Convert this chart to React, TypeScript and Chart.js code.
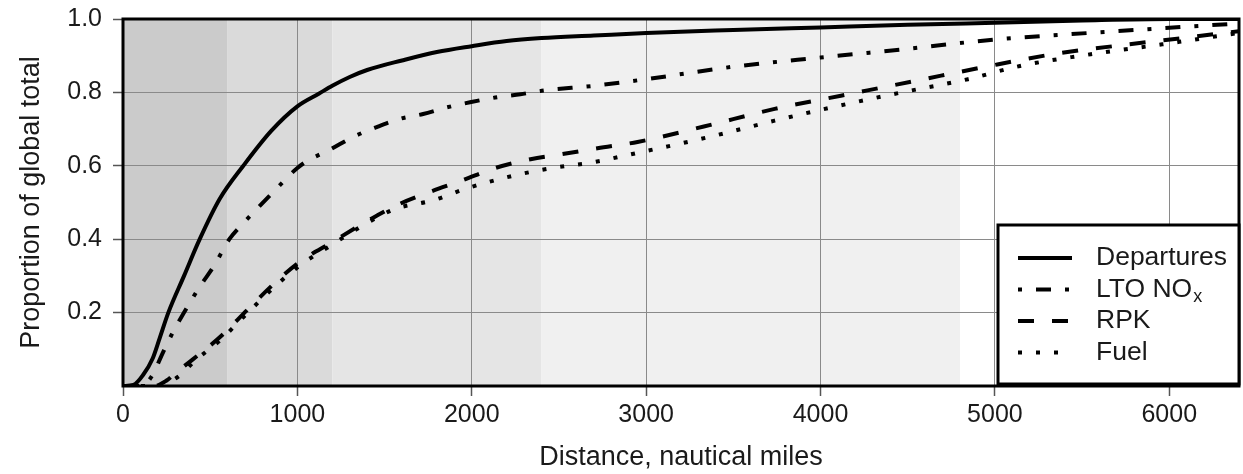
import React, { useEffect, useRef } from 'react';
import { Chart, registerables } from 'chart.js';

Chart.register(...registerables);

// ---- Data ----
const departuresX = [0, 60, 115, 170, 210, 260, 350, 440, 555, 690, 850, 1000, 1125, 1200, 1300, 1400, 1600, 1800, 2000, 2200, 2400, 2700, 3000, 3500, 4000, 4500, 5000, 5500, 6000, 6400];
const departuresY = [0, 0.003, 0.03, 0.075, 0.13, 0.2, 0.3, 0.4, 0.51, 0.6, 0.695, 0.762, 0.797, 0.818, 0.842, 0.861, 0.887, 0.91, 0.926, 0.94, 0.948, 0.955, 0.962, 0.97, 0.977, 0.984, 0.99, 0.996, 1.0, 1.0];

const ltoX = [0, 100, 170, 221, 290, 350, 442, 519, 610, 683, 779, 875, 1000, 1067, 1183, 1317, 1452, 1587, 1721, 1856, 1990, 2135, 2279, 2413, 2700, 3000, 3500, 4000, 4466, 5000, 5415, 6000, 6400];
const ltoY = [0, 0, 0.03, 0.083, 0.15, 0.2, 0.272, 0.325, 0.4, 0.44, 0.488, 0.535, 0.594, 0.616, 0.643, 0.678, 0.705, 0.728, 0.741, 0.759, 0.773, 0.786, 0.795, 0.805, 0.818, 0.836, 0.87, 0.895, 0.917, 0.944, 0.958, 0.976, 0.988];

const rpkX = [0, 180, 250, 300, 404, 558, 712, 880, 1019, 1192, 1385, 1558, 1750, 1950, 2135, 2337, 2548, 2721, 2951, 3331, 3737, 4117, 4550, 4927, 5333, 5767, 6095, 6400];
const rpkY = [0, 0, 0.015, 0.035, 0.074, 0.134, 0.207, 0.285, 0.34, 0.39, 0.445, 0.49, 0.527, 0.561, 0.594, 0.618, 0.634, 0.648, 0.665, 0.707, 0.755, 0.791, 0.832, 0.868, 0.904, 0.931, 0.949, 0.967];

const fuelX = [0, 200, 260, 330, 404, 558, 712, 880, 1019, 1192, 1385, 1558, 1779, 1962, 2144, 2356, 2548, 2663, 2978, 3357, 3737, 4062, 4466, 4846, 5144, 5550, 5960, 6400];
const fuelY = [0, 0, 0.01, 0.03, 0.065, 0.125, 0.198, 0.275, 0.33, 0.383, 0.44, 0.482, 0.506, 0.537, 0.562, 0.585, 0.6, 0.607, 0.638, 0.678, 0.723, 0.759, 0.8, 0.836, 0.872, 0.904, 0.931, 0.962];

const xTickValues = [0, 1000, 2000, 3000, 4000, 5000, 6000];
const yTickValues = [0.2, 0.4, 0.6, 0.8, 1.0];

const bandStarts = [0, 600, 1200, 2400];
const bandEnds = [600, 1200, 2400, 4800];
const bandColors = ['#cbcbcb', '#dadada', '#e5e5e5', '#f0f0f0'];

const seriesNames = ['Departures', 'LTO NO', 'RPK', 'Fuel'];
const seriesSubscripts = ['', 'x', '', ''];

const FONT = '"Liberation Sans", Arial, Helvetica, sans-serif';

const toPoints = (xs: number[], ys: number[]) => xs.map((x, i) => ({ x, y: ys[i] }));

const bandsPlugin = {
  id: 'bands',
  beforeDraw(chart: any) {
    const { ctx, chartArea, scales } = chart;
    const xs = scales.x;
    ctx.save();
    ctx.fillStyle = '#ffffff';
    ctx.fillRect(0, 0, chart.width, chart.height);
    for (let i = 0; i < bandStarts.length; i++) {
      const x0 = xs.getPixelForValue(bandStarts[i]);
      const x1 = xs.getPixelForValue(bandEnds[i]);
      ctx.fillStyle = bandColors[i];
      ctx.fillRect(x0, chartArea.top, x1 - x0, chartArea.bottom - chartArea.top);
    }
    ctx.restore();
  },
};

const framePlugin = {
  id: 'frame',
  beforeDatasetsDraw(chart: any) {
    const { ctx, chartArea } = chart;
    ctx.save();
    ctx.strokeStyle = '#000';
    ctx.lineWidth = 3;
    ctx.strokeRect(chartArea.left, chartArea.top, chartArea.right - chartArea.left, chartArea.bottom - chartArea.top);
    ctx.restore();
  },
};

const legendPlugin = {
  id: 'customLegend',
  afterDraw(chart: any) {
    const { ctx, chartArea } = chart;
    const boxRight = chartArea.right;
    const boxLeft = boxRight - 241;
    const boxTop = chartArea.top + 206;
    const boxBottom = chartArea.bottom - 2;
    ctx.save();
    ctx.fillStyle = '#ffffff';
    ctx.fillRect(boxLeft, boxTop, boxRight - boxLeft, boxBottom - boxTop);
    ctx.strokeStyle = '#000';
    ctx.lineWidth = 3;
    ctx.strokeRect(boxLeft, boxTop, boxRight - boxLeft, boxBottom - boxTop);
    const rowY0 = boxTop + 33;
    const rowStep = 31.5;
    chart.data.datasets.forEach((ds: any, i: number) => {
      const y = rowY0 + i * rowStep;
      ctx.beginPath();
      ctx.strokeStyle = '#000';
      ctx.lineWidth = ds.borderWidth;
      ctx.setLineDash(ds.legendDash || ds.borderDash || []);
      ctx.lineDashOffset = 0;
      ctx.moveTo(boxLeft + 20, y);
      ctx.lineTo(boxLeft + 74, y);
      ctx.stroke();
      ctx.setLineDash([]);
      ctx.fillStyle = '#1a1a1a';
      ctx.font = `26.5px ${FONT}`;
      ctx.textBaseline = 'middle';
      ctx.textAlign = 'left';
      const tx = boxLeft + 98;
      ctx.fillText(seriesNames[i], tx, y);
      if (seriesSubscripts[i]) {
        const w = ctx.measureText(seriesNames[i]).width;
        ctx.font = `18px ${FONT}`;
        ctx.fillText(seriesSubscripts[i], tx + w + 1, y + 8);
      }
    });
    ctx.restore();
  },
};

export default function App() {
  const canvasRef = useRef<HTMLCanvasElement | null>(null);

  useEffect(() => {
    const canvas = canvasRef.current;
    if (!canvas) return;
    const common = {
      borderColor: '#000',
      backgroundColor: '#000',
      borderWidth: 4,
      pointRadius: 0,
      fill: false,
      cubicInterpolationMode: 'monotone' as const,
    };
    const chart = new Chart(canvas, {
      type: 'line',
      data: {
        datasets: [
          { ...common, label: 'Departures', data: toPoints(departuresX, departuresY), borderDash: [] },
          { ...common, label: 'LTO NOx', data: toPoints(ltoX, ltoY), borderDash: [15, 14, 4, 14], legendDash: [4, 14, 15, 14] } as any,
          { ...common, label: 'RPK', data: toPoints(rpkX, rpkY), borderDash: [16, 18] },
          { ...common, label: 'Fuel', data: toPoints(fuelX, fuelY), borderDash: [4, 14] },
        ],
      },
      options: {
        responsive: false,
        animation: false,
        devicePixelRatio: 1,
        layout: { padding: { top: 19, right: 4, left: 0, bottom: 0 } },
        plugins: {
          legend: { display: false },
          tooltip: { enabled: false },
        },
        scales: {
          x: {
            type: 'linear',
            min: 0,
            max: 6400,
            afterBuildTicks: (scale: any) => {
              scale.ticks = xTickValues.map((v) => ({ value: v }));
            },
            afterFit: (scale: any) => {
              scale.height = 88;
              scale.paddingLeft = 0;
              scale.paddingRight = 0;
            },
            ticks: {
              font: { family: FONT, size: 25 },
              color: '#1a1a1a',
              padding: 4,
              maxRotation: 0,
              autoSkip: false,
              callback: (v: any) => String(v),
            },
            grid: { color: '#8a8a8a', lineWidth: 1, tickLength: 10, tickColor: '#555', tickWidth: 1.5 },
            border: { display: false },
            title: {
              display: true,
              text: 'Distance, nautical miles',
              font: { family: FONT, size: 27 },
              color: '#1a1a1a',
              padding: { top: 0, bottom: 0 },
            },
          },
          y: {
            type: 'linear',
            min: 0,
            max: 1,
            afterBuildTicks: (scale: any) => {
              scale.ticks = yTickValues.map((v) => ({ value: v }));
            },
            afterFit: (scale: any) => {
              scale.width = 123;
              scale.paddingTop = 0;
              scale.paddingBottom = 0;
            },
            ticks: {
              font: { family: FONT, size: 25 },
              color: '#1a1a1a',
              padding: 11,
              callback: (v: any) => Number(v).toFixed(1),
            },
            grid: { color: '#8a8a8a', lineWidth: 1, tickLength: 10, tickColor: '#555', tickWidth: 1.5 },
            border: { display: false },
            title: {
              display: true,
              text: 'Proportion of global total',
              font: { family: FONT, size: 27 },
              color: '#1a1a1a',
              padding: { top: 15, bottom: 0 },
            },
          },
        },
      },
      plugins: [bandsPlugin, framePlugin, legendPlugin],
    });
    return () => chart.destroy();
  }, []);

  return (
    <div style={{ position: 'fixed', left: 0, top: 0, width: 1243, height: 474, background: '#fff' }}>
      <canvas ref={canvasRef} width={1243} height={474} style={{ display: 'block' }} />
    </div>
  );
}
